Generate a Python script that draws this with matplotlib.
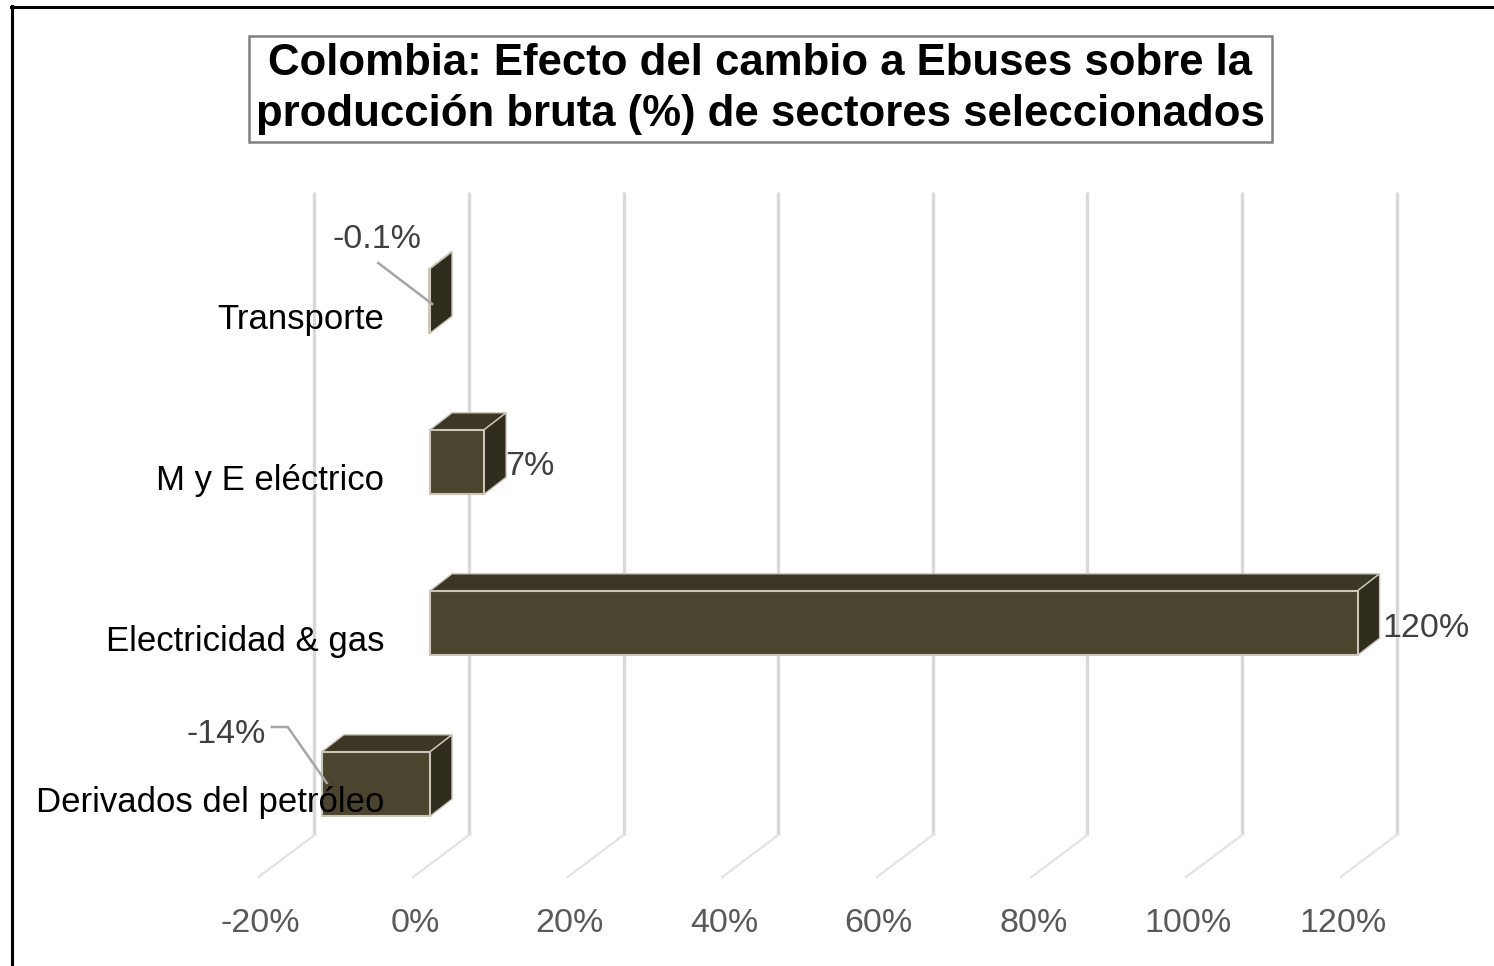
import numpy as np
import matplotlib
matplotlib.use('Agg')
import matplotlib.pyplot as plt
from matplotlib import transforms as mtransforms
from matplotlib.patches import Polygon
from matplotlib.lines import Line2D

plt.rcParams['font.family'] = ['Liberation Sans', 'DejaVu Sans']

# Sectors bottom -> top, change in gross output (%)
sectors = ['Derivados del petróleo', 'Electricidad & gas', 'M y E eléctrico', 'Transporte']
values = [-14, 120, 7, -0.1]
value_labels = ['-14%', '120%', '7%', '-0.1%']
ticks = [-20, 0, 20, 40, 60, 80, 100, 120]
tick_labels = ['-20%', '0%', '20%', '40%', '60%', '80%', '100%', '120%']

W, H = 1494, 966
fig = plt.figure(figsize=(W / 100, H / 100), dpi=100)
ax = fig.add_axes([0.15847, 0.0884, 0.80197, 0.7])
ax.set_xlim(-25, 130)
ax.set_ylim(-0.6, 3.6)
ax.axis('off')

front = '#4b442e'
top = '#3c3624'
side = '#302d1e'
edge = '#c9c6b8'
grid = '#d9d9d9'
DEPTH = (22, -17)      # bar depth, image pixels (x right, y down)
WALL = 39              # back wall shift of the gridlines
Y_TOP, Y_BOT = 3.677, -0.317
BAR_H = 0.4


def pt(x, y, dx=0, dy=0):
    """data point -> display pixels, plus an offset in image pixels"""
    px, py = ax.transData.transform((x, y))
    return (px + dx, py - dy)


def shift(dx, dy):
    return mtransforms.ScaledTranslation(dx / 100, -dy / 100, fig.dpi_scale_trans)


ident = mtransforms.IdentityTransform()

# back wall gridlines and floor diagonals
for t in ticks:
    ax.plot([t, t], [Y_TOP, Y_BOT], color=grid, lw=2.4, solid_capstyle='butt',
            transform=ax.transData + shift(WALL, 0), zorder=1, clip_on=False)
    a = pt(t, Y_BOT, WALL, 0)
    b = pt(t, Y_BOT, WALL - 56, 42)
    ax.add_line(Line2D([a[0], b[0]], [a[1], b[1]], color='#e3e3e3', lw=1.6,
                       transform=ident, zorder=1, clip_on=False))

for t, lab in zip(ticks, tick_labels):
    ax.text(t, Y_BOT, lab, ha='center', va='center', fontsize=24.5, color='#595959',
            transform=ax.transData + shift(WALL - 54, 88))

# front faces
ys = np.arange(len(sectors))
ax.barh(ys, values, height=BAR_H, left=0, color=front, edgecolor=edge, lw=1.5, zorder=4)

# top and end faces
dx, dy = DEPTH
for y, v in zip(ys, values):
    lo, hi = min(v, 0), max(v, 0)
    yt, yb = y + BAR_H / 2, y - BAR_H / 2
    top_face = [pt(lo, yt), pt(hi, yt), pt(hi, yt, dx, dy), pt(lo, yt, dx, dy)]
    end_face = [pt(hi, yb), pt(hi, yt), pt(hi, yt, dx, dy), pt(hi, yb, dx, dy)]
    ax.add_patch(Polygon(top_face, closed=True, facecolor=top, edgecolor=edge, lw=1.0,
                         transform=ident, zorder=3, clip_on=False))
    ax.add_patch(Polygon(end_face, closed=True, facecolor=side, edgecolor=edge, lw=1.0,
                         transform=ident, zorder=3, clip_on=False))

# sector names
for y, name in zip(ys, sectors):
    ax.text(0, y, name, ha='right', va='center', fontsize=25, color='black', zorder=6,
            transform=ax.transData + shift(-46, 18))

# value labels
lab_col = '#404040'
lead_col = '#a6a6a6'
# Derivados del petróleo
ax.text(values[0], ys[0], value_labels[0], ha='center', va='center', fontsize=24.5,
        color=lab_col, transform=ax.transData + shift(-96, -50), zorder=6)
p = [pt(values[0], ys[0], ox, oy) for ox, oy in [(-50, -57), (-34, -57), (5, -1)]]
ax.add_line(Line2D([q[0] for q in p], [q[1] for q in p], color=lead_col, lw=1.8,
                   transform=ident, zorder=6, clip_on=False))
# Electricidad & gas
ax.text(values[1], ys[1], value_labels[1], ha='left', va='center', fontsize=24.5,
        color=lab_col, transform=ax.transData + shift(25, 5), zorder=6)
# M y E eléctrico
ax.text(values[2], ys[2], value_labels[2], ha='left', va='center', fontsize=24.5,
        color=lab_col, transform=ax.transData + shift(21, 4), zorder=6)
# Transporte
ax.text(values[3], ys[3], value_labels[3], ha='center', va='center', fontsize=24.5,
        color=lab_col, transform=ax.transData + shift(-52, -62), zorder=6)
p = [pt(values[3], ys[3], ox, oy) for ox, oy in [(-51, -38), (3, 3)]]
ax.add_line(Line2D([q[0] for q in p], [q[1] for q in p], color=lead_col, lw=1.8,
                   transform=ident, zorder=6, clip_on=False))

# title in a grey box
fig.text(760.5 / W, 1 - 89 / H,
         'Colombia: Efecto del cambio a Ebuses sobre la\nproducción bruta (%) de sectores seleccionados',
         ha='center', va='center', fontsize=31.5, fontweight='bold', linespacing=1.32,
         bbox=dict(boxstyle='square,pad=0.16', facecolor='white', edgecolor='#808080', lw=1.8))

# chart area border (left and top only visible)
fig.add_artist(Line2D([12 / W, 12 / W], [0, 1 - 6 / H], color='black', lw=2.2))
fig.add_artist(Line2D([11 / W, 1], [1 - 7 / H, 1 - 7 / H], color='black', lw=2.2))

fig.savefig('out.png', dpi=100)
